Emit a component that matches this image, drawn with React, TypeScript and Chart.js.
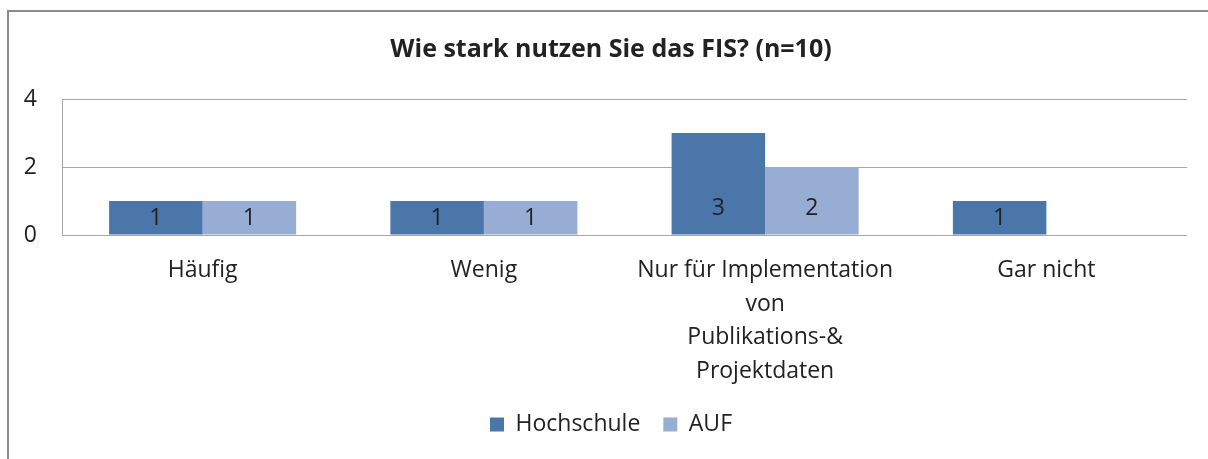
import React, { useEffect, useRef } from "react";
import { Chart, registerables } from "chart.js";

Chart.register(...registerables);

const chartTitle = "Wie stark nutzen Sie das FIS? (n=10)";
const categories: string[][] = [
  ["Häufig"],
  ["Wenig"],
  ["Nur für Implementation", "von", "Publikations-&", "Projektdaten"],
  ["Gar nicht"],
];
const seriesNames = ["Hochschule", "AUF"];
const hochschuleValues = [1, 1, 3, 1];
const aufValues = [1, 1, 2, 0];
const yTicks = [0, 2, 4];

const FONT = "'Open Sans', 'DejaVu Sans', sans-serif";
const TEXT = "#222222";

const framePlugin = {
  id: "frame",
  beforeDraw(chart: any) {
    const { ctx } = chart;
    ctx.save();
    ctx.fillStyle = "#ffffff";
    ctx.fillRect(0, 0, chart.width, chart.height);
    ctx.strokeStyle = "#8c8c8c";
    ctx.lineWidth = 2;
    ctx.strokeRect(8, 11, chart.width + 20, chart.height + 20);
    ctx.restore();
  },
};

const valueLabelPlugin = {
  id: "valueLabels",
  afterDatasetsDraw(chart: any) {
    const { ctx } = chart;
    ctx.save();
    ctx.font = `23px ${FONT}`;
    ctx.fillStyle = TEXT;
    ctx.textAlign = "center";
    ctx.textBaseline = "middle";
    chart.data.datasets.forEach((ds: any, di: number) => {
      const meta = chart.getDatasetMeta(di);
      meta.data.forEach((bar: any, i: number) => {
        const v = ds.data[i];
        if (!v) return;
        const cy = Math.max(bar.base - 26, bar.y + 17);
        ctx.fillText(String(v), bar.x, cy);
      });
    });
    ctx.restore();
  },
};

export default function App() {
  const canvasRef = useRef<HTMLCanvasElement | null>(null);

  useEffect(() => {
    document.body.style.margin = "0";
    document.body.style.overflow = "hidden";
    document.documentElement.style.overflow = "hidden";
    const canvas = canvasRef.current;
    if (!canvas) return;
    const chart = new Chart(canvas, {
      type: "bar",
      data: {
        labels: categories,
        datasets: [
          {
            label: seriesNames[0],
            data: hochschuleValues,
            backgroundColor: "#4a76a9",
            borderWidth: 0,
          },
          {
            label: seriesNames[1],
            data: aufValues,
            backgroundColor: "#97add3",
            borderWidth: 0,
          },
        ],
      },
      options: {
        responsive: false,
        animation: false,
        events: [],
        layout: { padding: { left: 7, right: -7, top: 10, bottom: 13 } },
        datasets: {
          bar: { categoryPercentage: 0.665, barPercentage: 1 },
        },
        plugins: {
          title: {
            display: true,
            text: chartTitle,
            color: TEXT,
            font: { family: FONT, size: 25, weight: "bold", lineHeight: 1.2 },
            padding: { top: 25, bottom: 34 },
          },
          legend: {
            display: true,
            position: "bottom",
            labels: {
              color: TEXT,
              font: { family: FONT, size: 23 },
              boxWidth: 14,
              boxHeight: 14,
              padding: 23,
            },
          },
          tooltip: { enabled: false },
        },
        scales: {
          x: {
            grid: { display: false, drawTicks: false },
            border: { display: false },
            ticks: {
              color: TEXT,
              font: { family: FONT, size: 23, lineHeight: 1.46 },
              padding: 19,
              maxRotation: 0,
              autoSkip: false,
            },
            afterFit(scale: any) {
              scale.height = 155;
            },
          },
          y: {
            min: 0,
            max: 4,
            afterBuildTicks(scale: any) {
              scale.ticks = yTicks.map((v) => ({ value: v }));
            },
            grid: { color: "#a6a6a6", lineWidth: 1, drawTicks: false },
            border: { display: true, color: "#a6a6a6", width: 1 },
            ticks: {
              color: TEXT,
              font: { family: FONT, size: 23 },
              padding: 25,
            },
            afterFit(scale: any) {
              scale.width = 55;
            },
          },
          y2: {
            position: "right",
            display: true,
            grid: { display: false, drawTicks: false },
            border: { display: false },
            ticks: { display: false },
            afterFit(scale: any) {
              scale.width = 28;
            },
          },
        },
      },
      plugins: [framePlugin, valueLabelPlugin],
    } as any);
    return () => chart.destroy();
  }, []);

  return (
    <div style={{ width: 1208, height: 459, overflow: "hidden" }}>
      <canvas ref={canvasRef} width={1208} height={459} style={{ display: "block" }} />
    </div>
  );
}
